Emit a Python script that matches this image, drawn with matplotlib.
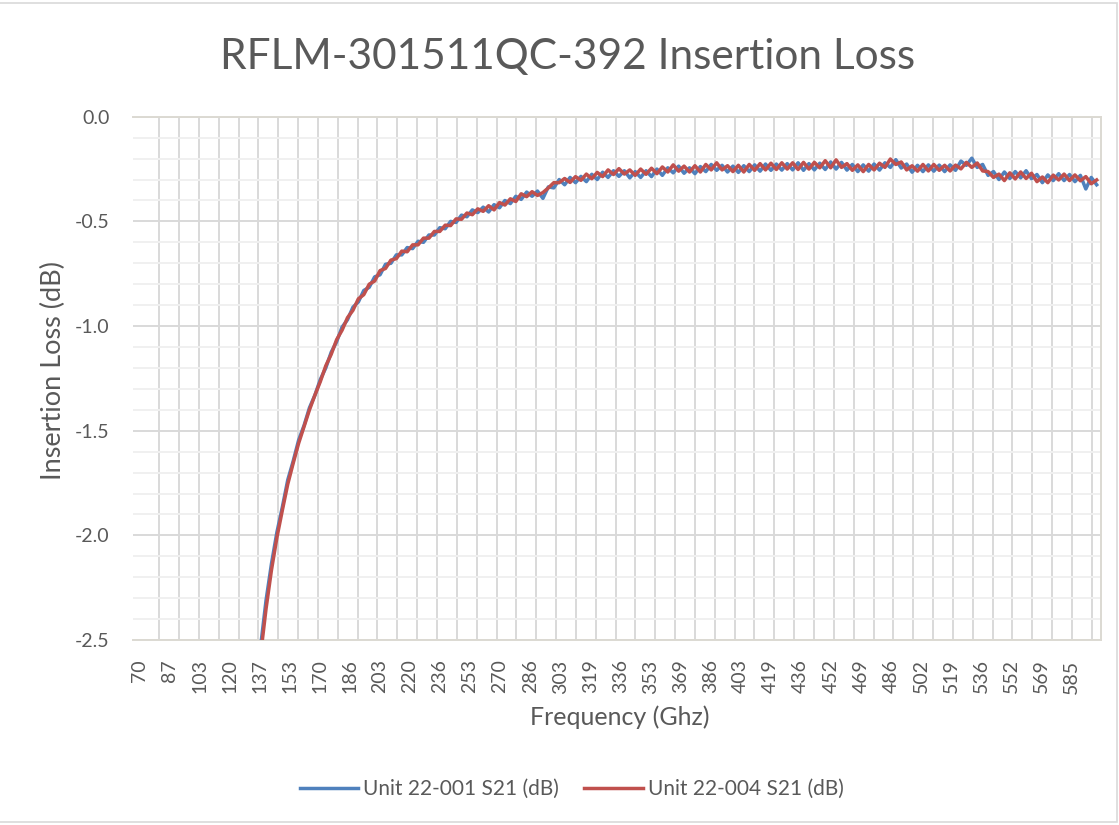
import numpy as np
import matplotlib.pyplot as plt
from matplotlib.patches import Rectangle

freq = np.arange(125, 600, 3)

unit_001 = [
    -3.80, -3.42, -3.09, -2.80, -2.53, -2.31, -2.135, -1.985, -1.865, -1.735,
    -1.645, -1.545, -1.475, -1.39, -1.33, -1.255, -1.20, -1.125, -1.075, -1.005,
    -0.97, -0.91, -0.885, -0.83, -0.815, -0.765, -0.755, -0.705, -0.70, -0.66,
    -0.66, -0.625, -0.63, -0.595, -0.60, -0.565, -0.565, -0.53, -0.535, -0.50,
    -0.505, -0.47, -0.478, -0.445, -0.458, -0.432, -0.455, -0.42, -0.435, -0.40,
    -0.415, -0.38, -0.395, -0.36, -0.38, -0.355, -0.39, -0.335, -0.34, -0.30,
    -0.325, -0.29, -0.315, -0.285, -0.31, -0.275, -0.30, -0.265, -0.29, -0.258,
    -0.285, -0.258, -0.292, -0.262, -0.29, -0.258, -0.286, -0.25, -0.28, -0.244,
    -0.268, -0.236, -0.27, -0.244, -0.272, -0.238, -0.262, -0.228, -0.256, -0.232,
    -0.264, -0.236, -0.266, -0.234, -0.262, -0.23, -0.26, -0.226, -0.256, -0.226,
    -0.255, -0.224, -0.254, -0.22, -0.256, -0.224, -0.254, -0.222, -0.252, -0.216,
    -0.25, -0.218, -0.255, -0.228, -0.262, -0.23, -0.26, -0.226, -0.255, -0.22,
    -0.242, -0.205, -0.245, -0.226, -0.265, -0.232, -0.262, -0.23, -0.26, -0.231,
    -0.262, -0.23, -0.256, -0.212, -0.232, -0.198, -0.242, -0.228, -0.28, -0.262,
    -0.3, -0.264, -0.295, -0.262, -0.292, -0.258, -0.296, -0.276, -0.315, -0.278,
    -0.305, -0.272, -0.305, -0.276, -0.31, -0.28, -0.345, -0.29, -0.325,
]

unit_004 = [
    -3.86, -3.48, -3.14, -2.85, -2.57, -2.35, -2.165, -2.01, -1.88, -1.755,
    -1.655, -1.56, -1.48, -1.40, -1.33, -1.265, -1.19, -1.135, -1.065, -1.02,
    -0.96, -0.925, -0.87, -0.85, -0.80, -0.785, -0.735, -0.725, -0.685, -0.678,
    -0.642, -0.645, -0.612, -0.612, -0.58, -0.58, -0.548, -0.548, -0.518, -0.52,
    -0.488, -0.49, -0.46, -0.468, -0.44, -0.452, -0.425, -0.445, -0.41, -0.422,
    -0.392, -0.405, -0.368, -0.382, -0.358, -0.376, -0.362, -0.34, -0.315, -0.315,
    -0.295, -0.314, -0.286, -0.304, -0.274, -0.296, -0.266, -0.286, -0.254, -0.276,
    -0.248, -0.274, -0.254, -0.28, -0.25, -0.275, -0.246, -0.272, -0.24, -0.264,
    -0.23, -0.26, -0.236, -0.264, -0.234, -0.264, -0.228, -0.254, -0.22, -0.254,
    -0.234, -0.262, -0.232, -0.264, -0.228, -0.256, -0.224, -0.254, -0.222, -0.252,
    -0.22, -0.25, -0.22, -0.252, -0.218, -0.25, -0.218, -0.244, -0.21, -0.244,
    -0.206, -0.242, -0.224, -0.256, -0.23, -0.262, -0.228, -0.254, -0.222, -0.242,
    -0.202, -0.228, -0.216, -0.254, -0.234, -0.26, -0.228, -0.259, -0.228, -0.256,
    -0.232, -0.259, -0.231, -0.249, -0.218, -0.242, -0.221, -0.259, -0.262, -0.29,
    -0.274, -0.305, -0.268, -0.297, -0.264, -0.295, -0.27, -0.31, -0.288, -0.315,
    -0.279, -0.302, -0.274, -0.305, -0.278, -0.306, -0.286, -0.32, -0.302,
]

x_labels = ["70", "87", "103", "120", "137", "153", "170", "186", "203", "220",
            "236", "253", "270", "286", "303", "319", "336", "353", "369", "386",
            "403", "419", "436", "452", "469", "486", "502", "519", "536", "552",
            "569", "585"]
y_ticks = [0.0, -0.5, -1.0, -1.5, -2.0, -2.5]
y_labels = ["0.0", "-0.5", "-1.0", "-1.5", "-2.0", "-2.5"]

title = "RFLM-301511QC-392 Insertion Loss"
names = ["Unit 22-001 S21 (dB)", "Unit 22-004 S21 (dB)"]

plt.rcParams["font.family"] = ["Lato", "DejaVu Sans"]
text_col = "#595959"

fig = plt.figure(figsize=(11.19, 8.25), dpi=100)
ax = fig.add_axes([0.1189, 0.2242, 0.8647, 0.6343])

ax.plot(freq, unit_001, color="#4F81BD", lw=2.5, label=names[0], zorder=3)
ax.plot(freq, unit_004, color="#C0504D", lw=2.5, label=names[1], zorder=4)

ax.set_xlim(66.5, 601.2)
ax.set_ylim(-2.5, 0.0)

# category style axis: label every 50 points, gridline every 33 points
label_step = (585 - 70) / (len(x_labels) - 1)
label_pos = 70 + label_step * np.arange(len(x_labels))
grid_pos = 70 + label_step * 33 / 50 * np.arange(49)
ax.set_xticks(label_pos, x_labels, rotation=90)
ax.set_xticks(grid_pos, minor=True)
ax.set_yticks(y_ticks, y_labels)
ax.set_yticks(np.arange(-2.5, 0.01, 0.1), minor=True)

ax.grid(True, which="minor", axis="x", color="#d9d9d9", lw=1.4)
ax.grid(True, which="minor", axis="y", color="#f0f0f0", lw=1.4)
ax.grid(True, which="major", axis="y", color="#d9d9d9", lw=1.4)
ax.set_axisbelow(True)
ax.tick_params(which="both", length=0)
ax.tick_params(axis="y", pad=17, labelsize=14, labelcolor=text_col)
ax.tick_params(axis="x", pad=14, labelsize=14, labelcolor=text_col)

ax.spines["left"].set_visible(False)
for s in ["top", "right", "bottom"]:
    ax.spines[s].set_color("#dcd9d2")
    ax.spines[s].set_linewidth(1.4)

ax.set_xlabel("Frequency (Ghz)", fontsize=18, color=text_col)
ax.set_ylabel("Insertion Loss (dB)", fontsize=19.5, color=text_col)
ax.xaxis.set_label_coords(0.503, -0.125)
ax.yaxis.set_label_coords(-0.069, 0.515)
fig.text(0.507, 0.931, title, fontsize=30.5, color=text_col,
         ha="center", va="center")

fig.legend(loc="center", bbox_to_anchor=(0.511, 0.0436), ncol=2,
           frameon=False, fontsize=15, labelcolor=text_col,
           handlelength=2.8, handletextpad=0.25, columnspacing=1.2)

fig.patches.append(Rectangle((-0.01, 0.004), 1.008, 0.992,
                             transform=fig.transFigure, fill=False,
                             edgecolor="#d9d9d9", lw=1.2))

fig.savefig("out.png", dpi=100)
